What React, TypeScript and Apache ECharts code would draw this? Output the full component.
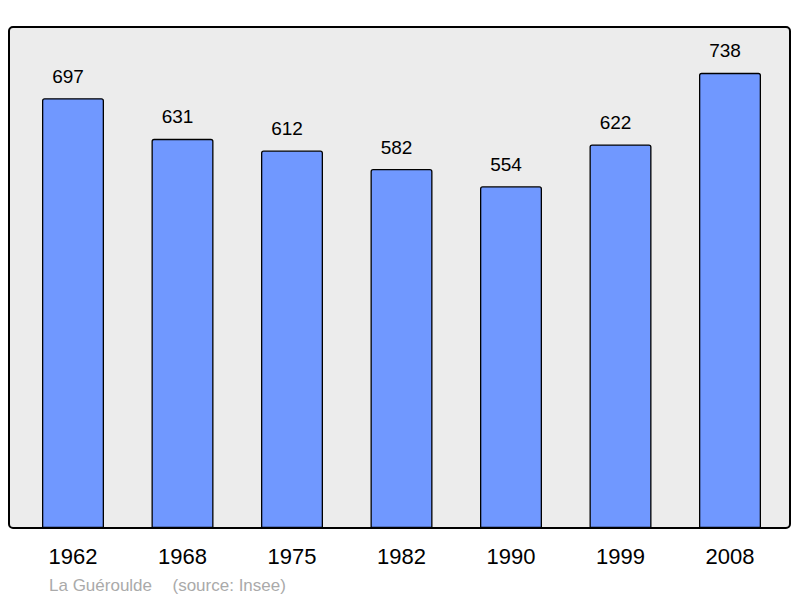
import React, { useEffect, useRef } from "react";
import * as echarts from "echarts";

const categories = ["1962", "1968", "1975", "1982", "1990", "1999", "2008"];
const population = [697, 631, 612, 582, 554, 622, 738];
const townName = "La Guéroulde";
const sourceText = "(source: Insee)";

const FONT = "'Liberation Sans', Arial, Helvetica, sans-serif";

export default function App() {
  const ref = useRef<HTMLDivElement>(null);

  useEffect(() => {
    if (!ref.current) return;
    const chart = echarts.init(ref.current, null, { renderer: "svg" });
    chart.setOption({
      animation: false,
      backgroundColor: "#ffffff",
      grid: { left: 18.25, right: 15.25, top: 34.6, bottom: 70, containLabel: false },
      xAxis: {
        type: "category",
        data: categories,
        axisLine: { show: false },
        axisTick: { show: false },
        splitLine: { show: false },
        axisLabel: {
          color: "#000000",
          fontSize: 22,
          fontFamily: FONT,
          margin: 17,
        },
      },
      yAxis: {
        type: "value",
        min: 0,
        max: 800,
        show: false,
        splitLine: { show: false },
      },
      graphic: [
        {
          type: "rect",
          z: -10,
          shape: { x: 9, y: 27, width: 781, height: 501, r: 4 },
          style: { fill: "#ececec", stroke: "none" },
        },
        {
          type: "rect",
          z: 100,
          shape: { x: 9, y: 27, width: 781, height: 501, r: 4 },
          style: { fill: "none", stroke: "#000000", lineWidth: 2 },
        },
        {
          type: "text",
          x: 49,
          y: 585,
          style: {
            text: townName,
            fill: "#aaaaaa",
            font: `17px ${FONT}`,
            verticalAlign: "middle",
            align: "left",
          },
        },
        {
          type: "text",
          x: 172.5,
          y: 585,
          style: {
            text: sourceText,
            fill: "#aaaaaa",
            font: `17px ${FONT}`,
            verticalAlign: "middle",
            align: "left",
          },
        },
      ],
      series: [
        {
          type: "bar",
          data: population,
          barWidth: 62,
          itemStyle: {
            color: "#7098ff",
            borderColor: "#000000",
            borderWidth: 1.3,
            borderRadius: [2, 2, 0, 0],
          },
          label: {
            show: true,
            position: "top",
            distance: 12.5,
            offset: [-5, 0],
            color: "#000000",
            fontSize: 19,
            fontFamily: FONT,
          },
        },
      ],
    });
    return () => chart.dispose();
  }, []);

  return (
    <div
      ref={ref}
      style={{ position: "absolute", left: 0, top: 0, width: 800, height: 598 }}
    />
  );
}
